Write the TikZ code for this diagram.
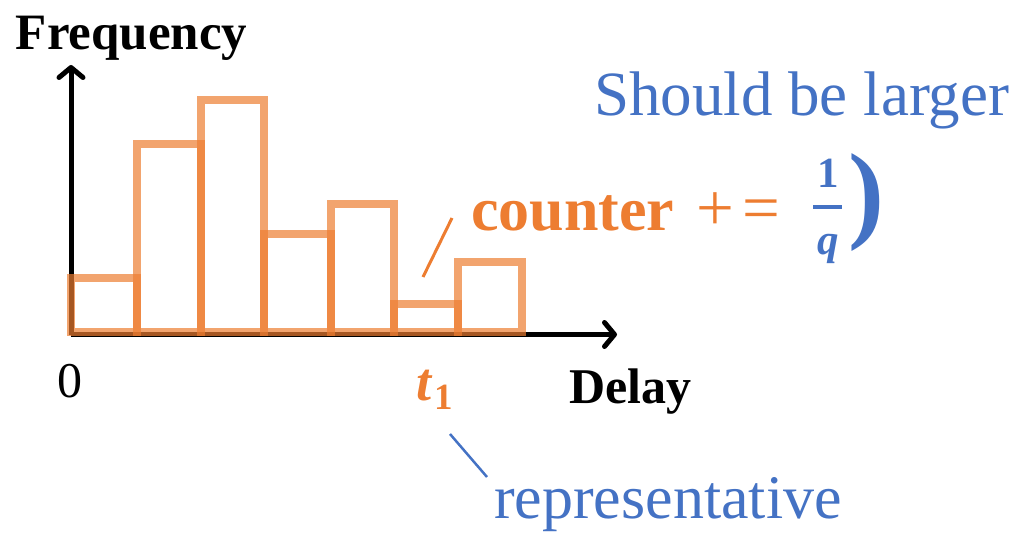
\documentclass[tikz,border=0pt]{standalone}
\usepackage{fontspec}
\setmainfont{Liberation Serif}
\usetikzlibrary{arrows.meta}
\definecolor{myorange}{HTML}{ED7D31}
\definecolor{myblue}{HTML}{4472C4}
\tikzset{
  axisline/.style={line width=5pt, -{Straight Barb[length=10pt,width=24pt,line cap=round,line join=round]}},
  bar/.style={draw=myorange, draw opacity=0.7, line width=8pt},
  lbl/.style={inner sep=0pt, outer sep=0pt},
  note/.style={line width=3pt}
}
\begin{document}
\begin{tikzpicture}[x=1pt,y=-1pt]
\useasboundingbox (0,0) rectangle (1019,535);
% axes
\coordinate (o) at (71,334.5);
\coordinate (ytip) at (71,65);
\coordinate (xtip) at (617,334.5);
\draw[axisline] (o) -- (ytip);
\draw[axisline] (o) -- (xtip);
% bars
\draw[bar] (70.5,332) rectangle (136.5,278);
\draw[bar] (136.5,332) rectangle (200.5,144);
\draw[bar] (200.5,332) rectangle (264,100);
\draw[bar] (264,332) rectangle (330.5,234);
\draw[bar] (330.5,332) rectangle (394,204);
\draw[bar] (394,332) rectangle (458,304);
\draw[bar] (458,332) rectangle (522,262);
% labels
\node[lbl, anchor=base west] (freq) at (16,50) {\fontsize{51}{51}\selectfont\bfseries Frequency};
\node[lbl, anchor=base west] (zero) at (57,397) {\fontsize{50}{50}\selectfont 0};
\node[lbl, anchor=base west] (delay) at (569,403) {\fontsize{50}{50}\selectfont\bfseries Delay};
\node[lbl, anchor=base west, text=myorange] (t1) at (416,400) {\fontsize{54}{54}\selectfont\bfseries\itshape t\kern3pt\raisebox{-9pt}{\fontsize{37}{37}\selectfont\upshape 1}};
\node[lbl, anchor=base west, text=myblue] (rep) at (494,518) {\fontsize{62}{62}\selectfont representative};
\node[lbl, anchor=base west, text=myblue] (should) at (594,115) {\fontsize{63}{63}\selectfont Should be larger};
\node[lbl, anchor=base west, text=myorange] (counter) at (471,230) {\fontsize{62}{62}\selectfont\bfseries counter};
\node[lbl, anchor=base west, text=myorange] (pluseq) at (696,230) {\fontsize{67}{67}\selectfont +\kern9pt=};
\node[lbl, anchor=base, text=myblue] (num) at (828,187) {\fontsize{43}{43}\selectfont\bfseries 1};
\node[lbl, anchor=base, text=myblue] (den) at (828,254) {\fontsize{43}{43}\selectfont\bfseries\itshape q};
\draw[myblue, line width=4.5pt] (813,207) -- (842,207);
\node[lbl, text=myblue] (paren) at (866,203) {\fontsize{108}{108}\selectfont\bfseries )};
% annotation lines
\coordinate (s1) at (452,218);
\coordinate (s2) at (423,277);
\draw[note, myorange] (s1) -- (s2);
\coordinate (r1) at (450,434);
\coordinate (r2) at (487,477);
\draw[note, myblue, line width=2.5pt] (r1) -- (r2);
\end{tikzpicture}
\end{document}
